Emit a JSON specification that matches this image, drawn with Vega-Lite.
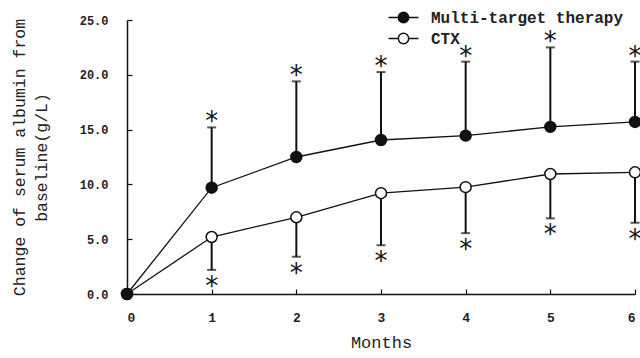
{
  "$schema": "https://vega.github.io/schema/vega-lite/v6.json",
  "width": 508,
  "height": 274,
  "autosize": "none",
  "padding": {"left": 127, "top": 20, "right": 5, "bottom": 64},
  "background": "white",
  "config": {
    "view": {"stroke": null},
    "axis": {
      "grid": false,
      "domainColor": "#111",
      "domainWidth": 1.5,
      "tickColor": "#111",
      "tickWidth": 1.2,
      "labelFont": "Liberation Mono",
      "labelColor": "#222",
      "titleFont": "Liberation Mono",
      "titleColor": "#222",
      "titleFontWeight": "normal"
    }
  },
  "data": {
    "values": [
      {"month": 0, "group": "CTX", "value": 0, "err": null},
      {"month": 1, "group": "CTX", "value": 5.2, "err": 2.2},
      {"month": 2, "group": "CTX", "value": 7.0, "err": 3.4},
      {"month": 3, "group": "CTX", "value": 9.2, "err": 4.45},
      {"month": 4, "group": "CTX", "value": 9.75, "err": 5.55},
      {"month": 5, "group": "CTX", "value": 10.95, "err": 6.9},
      {"month": 6, "group": "CTX", "value": 11.1, "err": 6.5},
      {"month": 0, "group": "Multi-target therapy", "value": 0, "err": null},
      {"month": 1, "group": "Multi-target therapy", "value": 9.7, "err": 15.2},
      {"month": 2, "group": "Multi-target therapy", "value": 12.5, "err": 19.4},
      {"month": 3, "group": "Multi-target therapy", "value": 14.05, "err": 20.25},
      {"month": 4, "group": "Multi-target therapy", "value": 14.45, "err": 21.2},
      {"month": 5, "group": "Multi-target therapy", "value": 15.25, "err": 22.5},
      {"month": 6, "group": "Multi-target therapy", "value": 15.7, "err": 21.2}
    ]
  },
  "encoding": {
    "x": {
      "field": "month",
      "type": "quantitative",
      "scale": {"domain": [0, 6], "nice": false},
      "axis": {
        "title": "Months",
        "titleFontSize": 17,
        "titlePadding": 10,
        "values": [0, 1, 2, 3, 4, 5, 6],
        "labelFontSize": 13,
        "labelFontWeight": "bold",
        "tickSize": -5,
        "labelPadding": 22
      }
    }
  },
  "layer": [
    {
      "mark": {"type": "line", "color": "#111", "strokeWidth": 1.3},
      "encoding": {
        "y": {
          "field": "value",
          "type": "quantitative",
          "scale": {"domain": [0, 25], "nice": false},
          "axis": {
            "title": ["Change of serum albumin from", "baseline(g/L)"],
            "titleFontSize": 16.5,
            "titleLineHeight": 22,
            "titlePadding": 30,
            "values": [0, 5, 10, 15, 20, 25],
            "format": ".1f",
            "labelFontSize": 12,
            "labelFontWeight": "bold",
            "tickSize": -5,
            "labelPadding": 24
          }
        },
        "detail": {"field": "group"}
      }
    },
    {
      "transform": [{"filter": "datum.month > 0"}],
      "mark": {"type": "rule", "color": "#111", "strokeWidth": 2},
      "encoding": {
        "y": {"field": "value", "type": "quantitative"},
        "y2": {"field": "err"}
      }
    },
    {
      "transform": [{"filter": "datum.month > 0"}],
      "mark": {"type": "tick", "orient": "horizontal", "color": "#111", "size": 9, "thickness": 2},
      "encoding": {
        "y": {"field": "err", "type": "quantitative"}
      }
    },
    {
      "mark": {"type": "point", "filled": true, "stroke": "#111", "strokeWidth": 1.5, "size": 120, "opacity": 1},
      "encoding": {
        "y": {"field": "value", "type": "quantitative"},
        "fill": {
          "field": "group",
          "type": "nominal",
          "scale": {"domain": ["Multi-target therapy", "CTX"], "range": ["#111", "white"]},
          "legend": {
            "title": null,
            "orient": "none",
            "legendX": 264,
            "legendY": -15,
            "padding": 0,
            "rowPadding": 0,
            "symbolType": "M-1.3,0H-0.45M0.45,0H1.3M0.45,0A0.45,0.45 0 1,1 -0.45,0A0.45,0.45 0 1,1 0.45,0Z",
            "symbolSize": 529,
            "symbolStrokeWidth": 1.5,
            "symbolStrokeColor": "#111",
            "labelFont": "Liberation Mono",
            "labelFontSize": 16,
            "labelFontWeight": "bold",
            "labelColor": "#222",
            "labelOffset": 15,
            "labelLimit": 0,
            "encode": {
              "symbols": {"update": {"stroke": {"value": "#111"}, "strokeWidth": {"value": 1.5}, "opacity": {"value": 1}}}
            }
          }
        }
      }
    },
    {
      "transform": [{"filter": "datum.group == 'Multi-target therapy' && datum.month > 0"}],
      "mark": {"type": "text", "text": "*", "font": "DejaVu Sans", "fontSize": 26, "baseline": "middle", "dy": -5, "color": "#111"},
      "encoding": {
        "y": {"field": "err", "type": "quantitative"}
      }
    },
    {
      "transform": [{"filter": "datum.group == 'CTX' && datum.month > 0"}],
      "mark": {"type": "text", "text": "*", "font": "DejaVu Sans", "fontSize": 26, "baseline": "middle", "dy": 17, "color": "#111"},
      "encoding": {
        "y": {"field": "err", "type": "quantitative"}
      }
    }
  ]
}
